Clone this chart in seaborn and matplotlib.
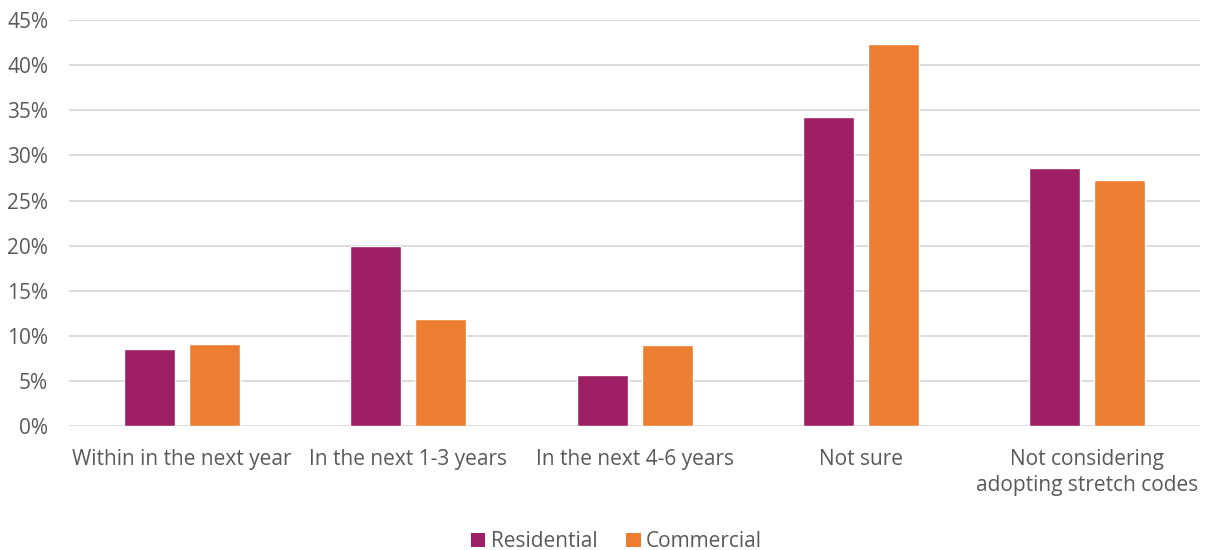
import matplotlib.pyplot as plt
import seaborn as sns
import pandas as pd
from matplotlib.ticker import PercentFormatter, MultipleLocator
from matplotlib.patches import Patch

# data
categories = ['Within in the next year', 'In the next 1-3 years', 'In the next 4-6 years',
              'Not sure', 'Not considering\nadopting stretch codes']
residential = [8.5, 20.0, 5.6, 34.3, 28.6]
commercial = [9.1, 11.9, 9.0, 42.4, 27.3]
series = ['Residential', 'Commercial']
colors = ['#9E1F63', '#ED7D31']

df = pd.DataFrame({
    'Category': categories * 2,
    'Value': residential + commercial,
    'Series': ['Residential'] * len(categories) + ['Commercial'] * len(categories),
})

sns.set_style('white')
plt.rcParams['font.family'] = ['Open Sans', 'DejaVu Sans']
text_col = '#595959'
fs = 15

fig = plt.figure(figsize=(12.11, 5.5), dpi=100)
ax = fig.add_axes([0.057, 0.226, 0.934, 0.737])

sns.barplot(data=df, x='Category', y='Value', hue='Series', hue_order=series,
            palette=colors, width=0.575, gap=0.215, saturation=1, ax=ax, legend=False)

ax.set_ylim(0, 45)
ax.yaxis.set_major_locator(MultipleLocator(5))
ax.yaxis.set_major_formatter(PercentFormatter(decimals=0))
ax.grid(axis='y', color='#D9D9D9', linewidth=1.3)
ax.set_axisbelow(True)
for s in ax.spines.values():
    s.set_visible(False)
ax.set_xlabel('')
ax.set_ylabel('')
ax.tick_params(axis='both', length=0, labelsize=fs, colors=text_col)
ax.tick_params(axis='x', pad=17)
ax.tick_params(axis='y', pad=15)
for lab in ax.get_xticklabels():
    lab.set_linespacing(1.3)

handles = [Patch(facecolor=c, edgecolor='none') for c in colors]
fig.legend(handles, series, loc='center', bbox_to_anchor=(0.509, 0.015), ncol=2,
           frameon=False, fontsize=fs, handlelength=0.7, handleheight=0.7,
           handletextpad=0.25, columnspacing=1.4, labelcolor=text_col)

fig.savefig('out.png', dpi=100)
